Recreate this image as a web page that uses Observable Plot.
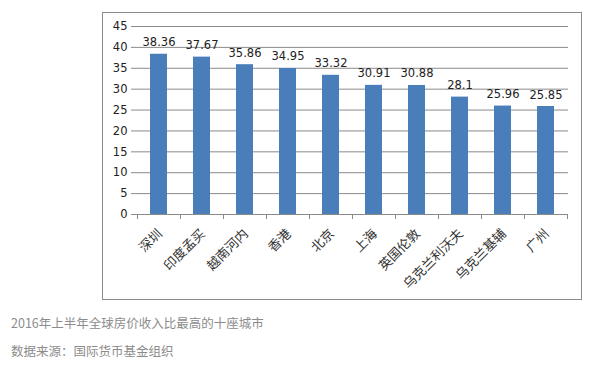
<!DOCTYPE html>
<html>
<head>
<meta charset="utf-8">
<script src="https://cdn.jsdelivr.net/npm/d3@7"></script>
<script src="https://cdn.jsdelivr.net/npm/@observablehq/plot@0.6"></script>
<style>
  html, body { margin: 0; padding: 0; background: #fff; }
  #wrap { position: relative; width: 596px; height: 371px; overflow: hidden; }
  #box { position: absolute; left: 102px; top: 12px; width: 478px; height: 286px; border: 1px solid #8a8a8a; }
  #chart { position: absolute; left: 0; top: 0; }
  .cap { position: absolute; left: 11px; font-family: "Noto Sans CJK SC", sans-serif; font-size: 12.5px; color: #8c8c8c; white-space: nowrap; line-height: 1; }
</style>
</head>
<body>
<div id="wrap">
  <div id="box"></div>
  <div id="chart"></div>
  <div class="cap" id="cap1" style="top:317px"></div>
  <div class="cap" id="cap2" style="top:345px"></div>
</div>
<script>
const cities = ["深圳", "印度孟买", "越南河内", "香港", "北京", "上海", "英国伦敦", "乌克兰利沃夫", "乌克兰基辅", "广州"];
const ratios = [38.36, 37.67, 35.86, 34.95, 33.32, 30.91, 30.88, 28.1, 25.96, 25.85];
const ratioLabels = ["38.36", "37.67", "35.86", "34.95", "33.32", "30.91", "30.88", "28.1", "25.96", "25.85"];
const yTicks = [0, 5, 10, 15, 20, 25, 30, 35, 40, 45];
const captionTitle = "2016年上半年全球房价收入比最高的十座城市";
const captionSource = "数据来源：国际货币基金组织";

const data = cities.map((c, i) => ({city: c, value: ratios[i], label: ratioLabels[i]}));

document.getElementById("cap1").textContent = captionTitle;
document.getElementById("cap2").textContent = captionSource;

const gray = "#8a8a8a";

// boundary tick marks between categories (Excel style)
function boundaryTicks(index, scales, values, dimensions) {
  const ns = "http://www.w3.org/2000/svg";
  const g = document.createElementNS(ns, "g");
  const x = scales.x, y = scales.y;
  const step = x.step ? x.step() : (x.bandwidth() / (1 - 0.6));
  const y0 = y(0);
  const first = x(cities[0]) + x.bandwidth() / 2 - step / 2;
  for (let i = 0; i <= cities.length; i++) {
    const xx = Math.round(first + i * step) + 0.5;
    const l = document.createElementNS(ns, "line");
    l.setAttribute("x1", xx); l.setAttribute("x2", xx);
    l.setAttribute("y1", y0); l.setAttribute("y2", y0 + 5);
    l.setAttribute("stroke", gray);
    g.appendChild(l);
  }
  return g;
}

const chart = Plot.plot({
  width: 596,
  height: 300,
  marginLeft: 136,
  marginRight: 28,
  marginTop: 26,
  marginBottom: 86,
  style: {fontFamily: "'DejaVu Sans', sans-serif", fontSize: "11px", color: "#222", background: "transparent"},
  x: {domain: cities, paddingInner: 0.6, paddingOuter: 0.3, axis: null},
  y: {domain: [0, 45], axis: null},
  marks: [
    Plot.ruleY(yTicks, {stroke: gray, strokeWidth: 1}),
    Plot.barY(data, {x: "city", y: "value", fill: "#4a7ebb"}),
    Plot.axisY({ticks: yTicks, tickSize: 5, tickPadding: 4, stroke: gray, fill: "#222", fontSize: 11.5, tickFormat: d => String(d), label: null}),
    Plot.axisX({tickSize: 0, tickPadding: 0, tickRotate: -45, textAnchor: "end", lineAnchor: "middle", dy: 17, dx: 1,
      fontFamily: "'Noto Sans CJK SC', sans-serif", fontSize: 13, fill: "#333", label: null}),
    boundaryTicks,
    Plot.text(data, {x: "city", y: "value", text: "label", dy: -8, lineAnchor: "bottom", fontSize: 11.5, fill: "#222"}),
    Plot.ruleX([0], {frameAnchor: "left", stroke: gray})
  ]
});

document.getElementById("chart").appendChild(chart);
</script>
</body>
</html>
